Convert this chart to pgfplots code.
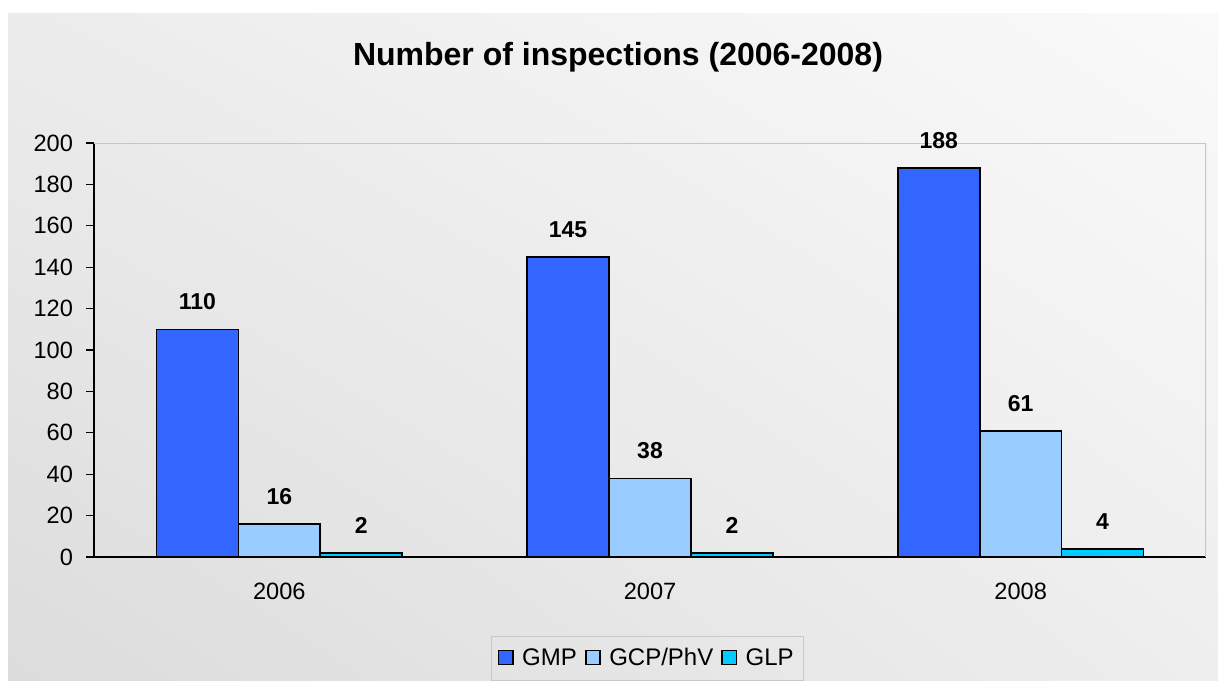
\documentclass[border=0pt]{standalone}
\usepackage{pgfplots}
\pgfplotsset{compat=1.18}
\usepackage{pgfplotstable}
\usetikzlibrary{shadings}
\usepackage{fontspec}
\setmainfont{Liberation Sans}
\definecolor{cGMP}{HTML}{3366FF}
\definecolor{cGCP}{HTML}{99CCFF}
\definecolor{cGLP}{HTML}{00CCFF}
\definecolor{bgLL}{RGB}{220,220,220}
\definecolor{bgUL}{RGB}{236,236,236}
\definecolor{bgUR}{RGB}{250,250,250}
\definecolor{bgLR}{RGB}{238,238,238}
\definecolor{legbox}{RGB}{200,200,200}
\pgfplotstableread{
x gmp gcp glp
0 110 16 2
1 145 38 2
2 188 61 4
}\data
\begin{document}
\begin{tikzpicture}
\fill[white] (0,0) rectangle (609pt,340pt);
\shade[lower left=bgLL, upper left=bgUL, upper right=bgUR, lower right=bgLR]
  (4pt,0) rectangle (609pt,333pt);
\node[font=\fontsize{16}{19}\selectfont\bfseries] at (309pt,311.5pt) {Number of inspections (2006-2008)};
\begin{axis}[
  at={(47pt,61.5pt)}, anchor=south west,
  scale only axis, width=556pt, height=207pt,
  xmin=-0.5, xmax=2.5, ymin=0, ymax=200,
  ytick={0,20,...,200},
  xtick={0,1,2}, xticklabels={2006,2007,2008},
  axis x line*=bottom, axis y line*=left,
  axis line style={black, line width=0.6pt},
  /pgf/number format/assume math mode=true,
  tick label style={font=\fontsize{11.8}{13}\selectfont},
  tick align=outside,
  major tick length=4pt,
  ytick style={black, line width=0.6pt},
  major x tick style={draw=none},
  extra x ticks={-0.5,0.5,1.5,2.5}, extra x tick labels={},
  extra x tick style={major tick length=4pt, tick style={black, line width=0.6pt}},
  xticklabel style={yshift=-5.5pt},
  yticklabel style={xshift=-3pt},
  ybar, bar width=0.221,
  every axis plot/.append style={draw=black, line width=0.8pt},
  nodes near coords,
  every node near coord/.append style={font=\fontsize{11.5}{13}\selectfont\bfseries, black, yshift=6pt},
  legend style={at={(0.498,-0.245)}, anchor=center, legend columns=3,
    draw=legbox, fill=none,
    font=\fontsize{12}{14}\selectfont, inner ysep=4pt, inner xsep=3pt,
    /tikz/every even column/.append style={column sep=2pt},
    /tikz/every odd column/.append style={column sep=0pt}},
  legend image code/.code={\draw[#1, draw=black, line width=0.8pt] (0cm,-0.11cm) rectangle (0.25cm,0.14cm); \path (0.33cm,0);},
]
\addplot[fill=cGMP, bar shift=-0.221] table[x=x, y=gmp] {\data};
\addplot[fill=cGCP, bar shift=0] table[x=x, y=gcp] {\data};
\addplot[fill=cGLP, bar shift=0.221] table[x=x, y=glp] {\data};
\legend{GMP, GCP/PhV, GLP}
\draw[gray!45, line width=0.8pt] (rel axis cs:0,1) -- (rel axis cs:1,1) -- (rel axis cs:1,0);
\end{axis}
\end{tikzpicture}
\end{document}
